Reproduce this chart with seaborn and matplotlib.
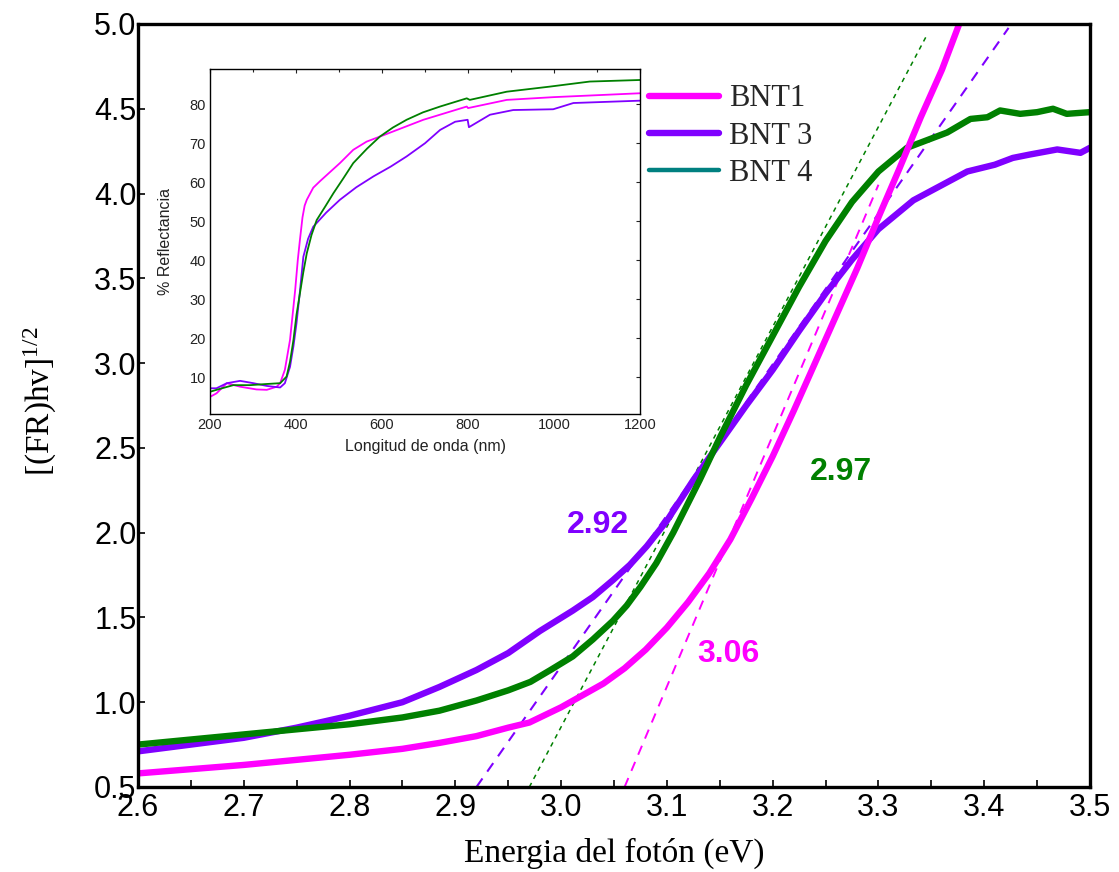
import matplotlib
matplotlib.use("Agg")
import matplotlib.pyplot as plt
from matplotlib.lines import Line2D
from matplotlib.ticker import MultipleLocator
import pandas as pd
import seaborn as sns

# ---- Tauc plot: photon energy (eV) vs [(F(R)) hv]^(1/2) ----
energy_bnt1 = [2.60, 2.65, 2.70, 2.75, 2.80, 2.85, 2.885, 2.92, 2.95, 2.97, 3.00,
               3.02, 3.04, 3.06, 3.08, 3.10, 3.12, 3.14, 3.16, 3.18, 3.20, 3.22,
               3.24, 3.26, 3.28, 3.30, 3.32, 3.34, 3.36, 3.38]
tauc_bnt1 = [0.58, 0.605, 0.63, 0.66, 0.69, 0.725, 0.76, 0.80, 0.85, 0.88, 0.97,
             1.04, 1.11, 1.20, 1.31, 1.44, 1.59, 1.76, 1.96, 2.20, 2.45, 2.72,
             3.00, 3.28, 3.56, 3.86, 4.15, 4.45, 4.73, 5.06]

energy_bnt3 = [2.60, 2.65, 2.70, 2.75, 2.80, 2.85, 2.885, 2.92, 2.95, 2.98, 3.011,
               3.03, 3.049, 3.065, 3.081, 3.10, 3.125, 3.15, 3.175, 3.20, 3.225,
               3.25, 3.275, 3.30, 3.333, 3.36, 3.384, 3.41, 3.427, 3.443, 3.469,
               3.491, 3.50]
tauc_bnt3 = [0.71, 0.75, 0.79, 0.85, 0.92, 1.00, 1.09, 1.19, 1.29, 1.42, 1.54,
             1.62, 1.72, 1.81, 1.92, 2.07, 2.31, 2.53, 2.75, 2.96, 3.19,
             3.41, 3.61, 3.79, 3.96, 4.05, 4.13, 4.17, 4.21, 4.23, 4.26,
             4.24, 4.27]

energy_bnt4 = [2.60, 2.65, 2.70, 2.75, 2.80, 2.85, 2.885, 2.92, 2.95, 2.971, 2.99,
               3.011, 3.03, 3.049, 3.062, 3.075, 3.09, 3.106, 3.131, 3.15, 3.175,
               3.20, 3.225, 3.25, 3.275, 3.30, 3.327, 3.365, 3.387, 3.403, 3.415,
               3.434, 3.45, 3.465, 3.478, 3.50]
tauc_bnt4 = [0.75, 0.78, 0.81, 0.84, 0.87, 0.91, 0.95, 1.01, 1.07, 1.12, 1.19,
             1.27, 1.37, 1.48, 1.57, 1.68, 1.82, 2.00, 2.31, 2.56, 2.87,
             3.16, 3.45, 3.72, 3.95, 4.13, 4.27, 4.36, 4.44, 4.45, 4.49,
             4.47, 4.48, 4.50, 4.47, 4.48]

# Linear extrapolations of the absorption edge (band-gap values, slopes, end points)
gap_labels = ["BNT1", "BNT 3", "BNT 4"]
gap_values = [3.06, 2.92, 2.97]
gap_slopes = [14.8, 8.9, 11.8]
gap_x_end = [3.30, 3.423, 3.345]

# ---- Inset: diffuse reflectance spectra ----
wl_bnt1 = [200, 215, 239, 270, 308, 332, 355, 363, 374, 386, 392, 398, 404, 409,
           415, 420, 425, 440, 456, 502, 533, 564, 595, 696, 797, 800, 890, 998,
           1200]
refl_bnt1 = [5.0, 5.9, 8.5, 7.6, 6.9, 6.8, 7.6, 8.5, 11.9, 19.6, 26.0, 32.4, 40.0,
             45.2, 51.0, 54.0, 55.5, 58.6, 60.3, 64.9, 68.3, 70.4, 71.7, 76.0,
             79.4, 79.0, 81.1, 81.8, 82.8]

wl_bnt3 = [200, 215, 239, 270, 301, 332, 363, 374, 386, 394, 401, 409, 417, 428,
           440, 470, 502, 540, 580, 620, 657, 700, 735, 770, 799, 802, 851, 905,
           998, 1045, 1200]
refl_bnt3 = [7.2, 7.2, 8.5, 9.1, 8.5, 7.8, 7.4, 8.5, 12.7, 18.0, 23.8, 32.0, 40.9,
             45.5, 48.6, 52.2, 55.5, 58.7, 61.5, 64.0, 66.6, 70.0, 73.4, 75.5,
             76.0, 74.1, 77.3, 78.5, 78.7, 80.3, 80.9]

wl_bnt4 = [200, 215, 254, 293, 332, 363, 378, 386, 394, 401, 409, 417, 425, 436,
           448, 468, 487, 510, 533, 565, 595, 625, 657, 695, 735, 797, 804, 890,
           990, 1083, 1200]
refl_bnt4 = [6.3, 6.8, 8.0, 8.0, 8.3, 8.5, 10.2, 14.0, 19.6, 26.0, 31.5, 37.0,
             41.8, 46.5, 50.3, 53.8, 57.2, 61.0, 64.9, 68.6, 71.7, 74.0, 76.0,
             77.9, 79.4, 81.5, 81.1, 83.2, 84.5, 85.8, 86.2]

series_names = ["BNT1", "BNT 3", "BNT 4"]
line_colors = {"BNT1": "#FF00FF", "BNT 3": "#8000FF", "BNT 4": "#008000"}
legend_colors = ["#FF00FF", "#8000FF", "#008080"]

sns.set_theme(style="white")
plt.rcParams["font.family"] = ["Liberation Sans", "DejaVu Sans"]
plt.rcParams["mathtext.fontset"] = "custom"
plt.rcParams["mathtext.rm"] = "Liberation Serif"
plt.rcParams["mathtext.it"] = "Liberation Serif:italic"

tauc = pd.concat([
    pd.DataFrame({"E": energy_bnt1, "y": tauc_bnt1, "muestra": "BNT1"}),
    pd.DataFrame({"E": energy_bnt3, "y": tauc_bnt3, "muestra": "BNT 3"}),
    pd.DataFrame({"E": energy_bnt4, "y": tauc_bnt4, "muestra": "BNT 4"}),
])
refl = pd.concat([
    pd.DataFrame({"wl": wl_bnt1, "R": refl_bnt1, "muestra": "BNT1"}),
    pd.DataFrame({"wl": wl_bnt3, "R": refl_bnt3, "muestra": "BNT 3"}),
    pd.DataFrame({"wl": wl_bnt4, "R": refl_bnt4, "muestra": "BNT 4"}),
])

fig = plt.figure(figsize=(11.19, 8.72), dpi=100)
ax = fig.add_axes([0.1233, 0.0975, 0.8508, 0.875])

# tangent lines at the absorption edge
tangent_styles = {"BNT1": dict(dashes=(5, 4), lw=1.4),
                  "BNT 3": dict(dashes=(5, 4), lw=1.5),
                  "BNT 4": dict(dashes=(3, 3), lw=1.1)}
for name, eg, m, xe in zip(gap_labels, gap_values, gap_slopes, gap_x_end):
    tdf = pd.DataFrame({"E": [eg, xe], "y": [0.5, 0.5 + m * (xe - eg)]})
    ln = sns.lineplot(data=tdf, x="E", y="y", ax=ax, color=line_colors[name],
                      lw=tangent_styles[name]["lw"], legend=False)
    ln.lines[-1].set_dashes(tangent_styles[name]["dashes"])

sns.lineplot(data=tauc, x="E", y="y", hue="muestra", palette=line_colors,
             hue_order=["BNT 3", "BNT 4", "BNT1"], lw=4.6, ax=ax, legend=False,
             sort=False)
for l in ax.lines:
    l.set_solid_joinstyle("round")

ax.set_xlim(2.6, 3.5)
ax.set_ylim(0.5, 5.0)
ax.xaxis.set_major_locator(MultipleLocator(0.1))
ax.xaxis.set_minor_locator(MultipleLocator(0.05))
ax.yaxis.set_major_locator(MultipleLocator(0.5))
ax.tick_params(axis="both", which="both", direction="in", labelsize=22,
               colors="black", length=5, width=1.2, pad=4,
               top=False, right=False, bottom=True, left=True)
ax.tick_params(axis="y", pad=1)
for sp in ax.spines.values():
    sp.set_color("black")
    sp.set_linewidth(2.4)

ax.set_xlabel("Energia del fotón (eV)", family="Liberation Serif", fontsize=24,
              color="black")
ax.set_ylabel(r"[(FR)hv]$^{1/2}$", family="Liberation Serif", fontsize=24,
              color="black")
ax.xaxis.set_label_coords(0.5, -0.066)
ax.yaxis.set_label_coords(-0.083, 0.505)

# band-gap values
ax.text(3.035, 2.045, "2.92", color="#8000FF", fontsize=23, fontweight="bold",
        ha="center", va="center")
ax.text(3.265, 2.357, "2.97", color="#008000", fontsize=23, fontweight="bold",
        ha="center", va="center")
ax.text(3.158, 1.284, "3.06", color="#FF00FF", fontsize=23, fontweight="bold",
        ha="center", va="center")

handles = [Line2D([], [], color=c, lw=lw) for c, lw in
           zip(legend_colors, [4.6, 4.6, 3.2])]
ax.legend(handles, series_names, loc="upper left", bbox_to_anchor=(0.537, 0.921),
          frameon=False, handlelength=2.3, handletextpad=0.32, labelspacing=0.27,
          borderpad=0, borderaxespad=0,
          prop={"family": "Liberation Serif", "size": 22})

# ---- inset ----
axin = fig.add_axes([0.1877, 0.5252, 0.3843, 0.3956])
sns.lineplot(data=refl, x="wl", y="R", hue="muestra", palette=line_colors,
             hue_order=["BNT1", "BNT 3", "BNT 4"], lw=1.3, ax=axin, legend=False,
             sort=False)
axin.set_xlim(200, 1200)
axin.set_ylim(0.6, 89)
axin.xaxis.set_major_locator(MultipleLocator(200))
axin.xaxis.set_minor_locator(MultipleLocator(100))
axin.set_yticks(range(10, 90, 10))
axin.tick_params(axis="both", which="both", direction="in", labelsize=10.5,
                 colors="#222222", length=3, width=0.8, pad=3,
                 top=True, right=True)
axin.tick_params(axis="x", which="minor", length=2)
for sp in axin.spines.values():
    sp.set_color("black")
    sp.set_linewidth(1.0)
axin.set_xlabel("Longitud de onda (nm)", fontsize=11.5, color="#222222", labelpad=5)
axin.set_ylabel("% Reflectancia", fontsize=11.5, color="#222222", labelpad=12)

fig.savefig("out.png", dpi=100)
